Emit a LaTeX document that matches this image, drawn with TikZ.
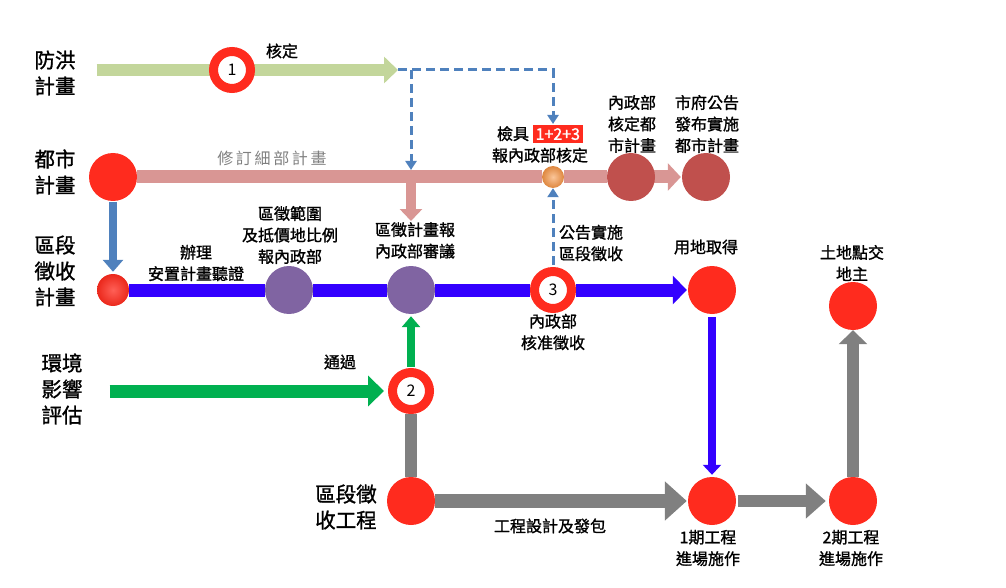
\documentclass[tikz,border=0pt]{standalone}
\usepackage{fontspec}
\setmainfont{Noto Sans CJK TC}[FakeBold=1.3]
\newfontfamily\plainf{Noto Sans CJK TC}
\usetikzlibrary{arrows.meta,backgrounds}
\definecolor{myred}{HTML}{FF2B1E}
\definecolor{pinkline}{HTML}{D99694}
\definecolor{lgreen}{HTML}{C3D69B}
\definecolor{dgreen}{HTML}{00B050}
\definecolor{mblue}{HTML}{3300FF}
\definecolor{steel}{HTML}{4F81BD}
\definecolor{mpurple}{HTML}{8064A2}
\definecolor{darkred}{HTML}{C0504D}
\definecolor{morange}{HTML}{F79646}
\definecolor{mgray}{HTML}{808080}
\begin{document}
\begin{tikzpicture}[x=1pt,y=-1pt,
  big/.style={font=\fontsize{20.5}{26}\selectfont, align=center, inner sep=1pt},
  lbl/.style={font=\fontsize{16}{21.5}\selectfont, align=center, inner sep=1pt},
  dot/.style={circle, minimum size=48pt, inner sep=0pt},
  reddot/.style={dot, fill=myred},
  ring/.style={circle, draw=myred, line width=9pt, fill=white, minimum size=37pt, inner sep=0pt, font=\fontsize{16}{16}\plainf},
  fat/.style={line width=#1},
  dashb/.style={draw=steel, line width=3pt, dash pattern=on 9pt off 5pt, -{Triangle[length=9pt,width=11pt]}},
]
\useasboundingbox (0,0) rectangle (1006,588);

% ---- left labels
\node[big] (fh) at (55,73) {防洪\\計畫};
\node[big] (city) at (55,172) {都市\\計畫};
\node[big] (zq) at (55,271) {區段\\徵收\\計畫};
\node[big] (env) at (62,389) {環境\\影響\\評估};

% ---- nodes
\node[ring] (c1) at (232,70) {1};
\coordinate (fhend) at (398,70);
\node[reddot] (cityc) at (113,177) {};
\node[circle, minimum size=22pt, inner sep=0pt, inner color=morange!55!white, outer color=morange!90!black] (orb) at (553,177) {};
\node[dot, fill=darkred] (dr1) at (631,177) {};
\node[dot, fill=darkred] (dr2) at (706,177) {};
\coordinate (pinkdrop) at (411,177);

\node[circle, minimum size=32pt, inner sep=0pt, inner color=myred!75!white, outer color=myred!92!black] (ball) at (113,290) {};
\node[dot, fill=mpurple] (p1) at (289,290) {};
\node[dot, fill=mpurple] (p2) at (411,290) {};
\node[ring] (c3) at (553,290) {3};
\node[reddot] (use) at (712,290) {};

\node[ring] (c2) at (411,391) {2};
\node[reddot] (wc) at (411,501) {};
\node[reddot] (ph1) at (712,501) {};
\node[reddot] (ph2) at (853,501) {};
\node[reddot] (land) at (853,306) {};

% ---- labels
\node[lbl] (lhd) at (282,51) {核定};
\node[lbl, text=mgray, font=\fontsize{16}{21.5}\plainf] (lrev) at (272,158) {修\,訂\,細\,部\,計\,畫};
\node[lbl, anchor=north] (lchk) at (540,124) {檢具 \colorbox{myred}{\textcolor{white}{1+2+3}}\\報內政部核定};
\node[lbl] (ldr1) at (632,124) {內政部\\核定都\\市計畫};
\node[lbl] (ldr2) at (707,124) {市府公告\\發布實施\\都市計畫};
\node[lbl] (lhear) at (196,263) {辦理\\安置計畫聽證};
\node[lbl] (lp1) at (290,235) {區徵範圍\\及抵價地比例\\報內政部};
\node[lbl, anchor=north] (lp2) at (415,221) {區徵計畫報\\內政部審議};
\node[lbl] (lann) at (591,243) {公告實施\\區段徵收};
\node[lbl] (lapp) at (553,332) {內政部\\核准徵收};
\node[lbl] (luse) at (706,247) {用地取得};
\node[lbl] (lland) at (852,263) {土地點交\\地主};
\node[lbl] (lpass) at (340,362) {通過};
\node[big, align=right] (lwc) at (346,507) {區段徵\\收工程};
\node[lbl] (ldes) at (550,526) {工程設計及發包};
\node[lbl] (lph1) at (708,548) {1期工程\\進場施作};
\node[lbl] (lph2) at (851,548) {2期工程\\進場施作};

% ---- connectors
\begin{scope}[on background layer]
  \draw[lgreen, fat=12pt, shorten <=20pt, -{Triangle[length=14pt,width=26pt]}] (fh.east |- c1) -- (fhend);
  \draw[pinkline, fat=13pt] (cityc) -- (orb) -- (dr1);
  \draw[pinkline, fat=13pt, shorten <=-2pt, shorten >=1pt, -{Triangle[length=13pt,width=27pt]}] (dr1) -- (dr2);
  \draw[mblue, fat=13pt] (ball) -- (p1) -- (p2) -- (c3);
  \draw[mblue, fat=13pt, shorten >=1pt, -{Triangle[length=14pt,width=28pt]}] (c3) -- (use);
\end{scope}

\draw[dashb] (fhend) -| (lchk.north -| orb);
\draw[dashb] (fhend -| pinkdrop) -- ([yshift=7pt]pinkdrop);
\draw[dashb, shorten <=2pt] (c3.north) -- (orb.south);
\draw[pinkline, fat=10pt, -{Triangle[length=12pt,width=22pt]}] ([yshift=-6pt]pinkdrop) -- (lp2.north -| pinkdrop);
\draw[steel, fat=8pt, shorten <=1pt, shorten >=2pt, -{Triangle[length=12pt,width=20pt]}] (cityc) -- (ball);

\draw[dgreen, fat=13pt, -{Triangle[length=16pt,width=30pt]}, shorten <=26pt, shorten >=4pt] (env.east |- c2) -- (c2);
\draw[dgreen, fat=8pt, shorten <=1pt, shorten >=2pt, -{Triangle[length=11pt,width=18pt]}] (c2) -- (p2);
\draw[mgray, fat=12pt] (c2) -- (wc);
\draw[mgray, fat=14pt, shorten >=1pt, -{Triangle[length=22pt,width=38pt]}] (wc) -- (ph1);
\draw[mblue, fat=8pt, shorten <=3pt, shorten >=2pt, -{Triangle[length=10pt,width=18pt]}] (use) -- (ph1);
\draw[mgray, fat=12pt, shorten <=2pt, shorten >=3pt, -{Triangle[length=20pt,width=34pt]}] (ph1) -- (ph2);
\draw[mgray, fat=12pt, -{Triangle[length=14pt,width=28pt]}] (ph2) -- (land);
\end{tikzpicture}
\end{document}
